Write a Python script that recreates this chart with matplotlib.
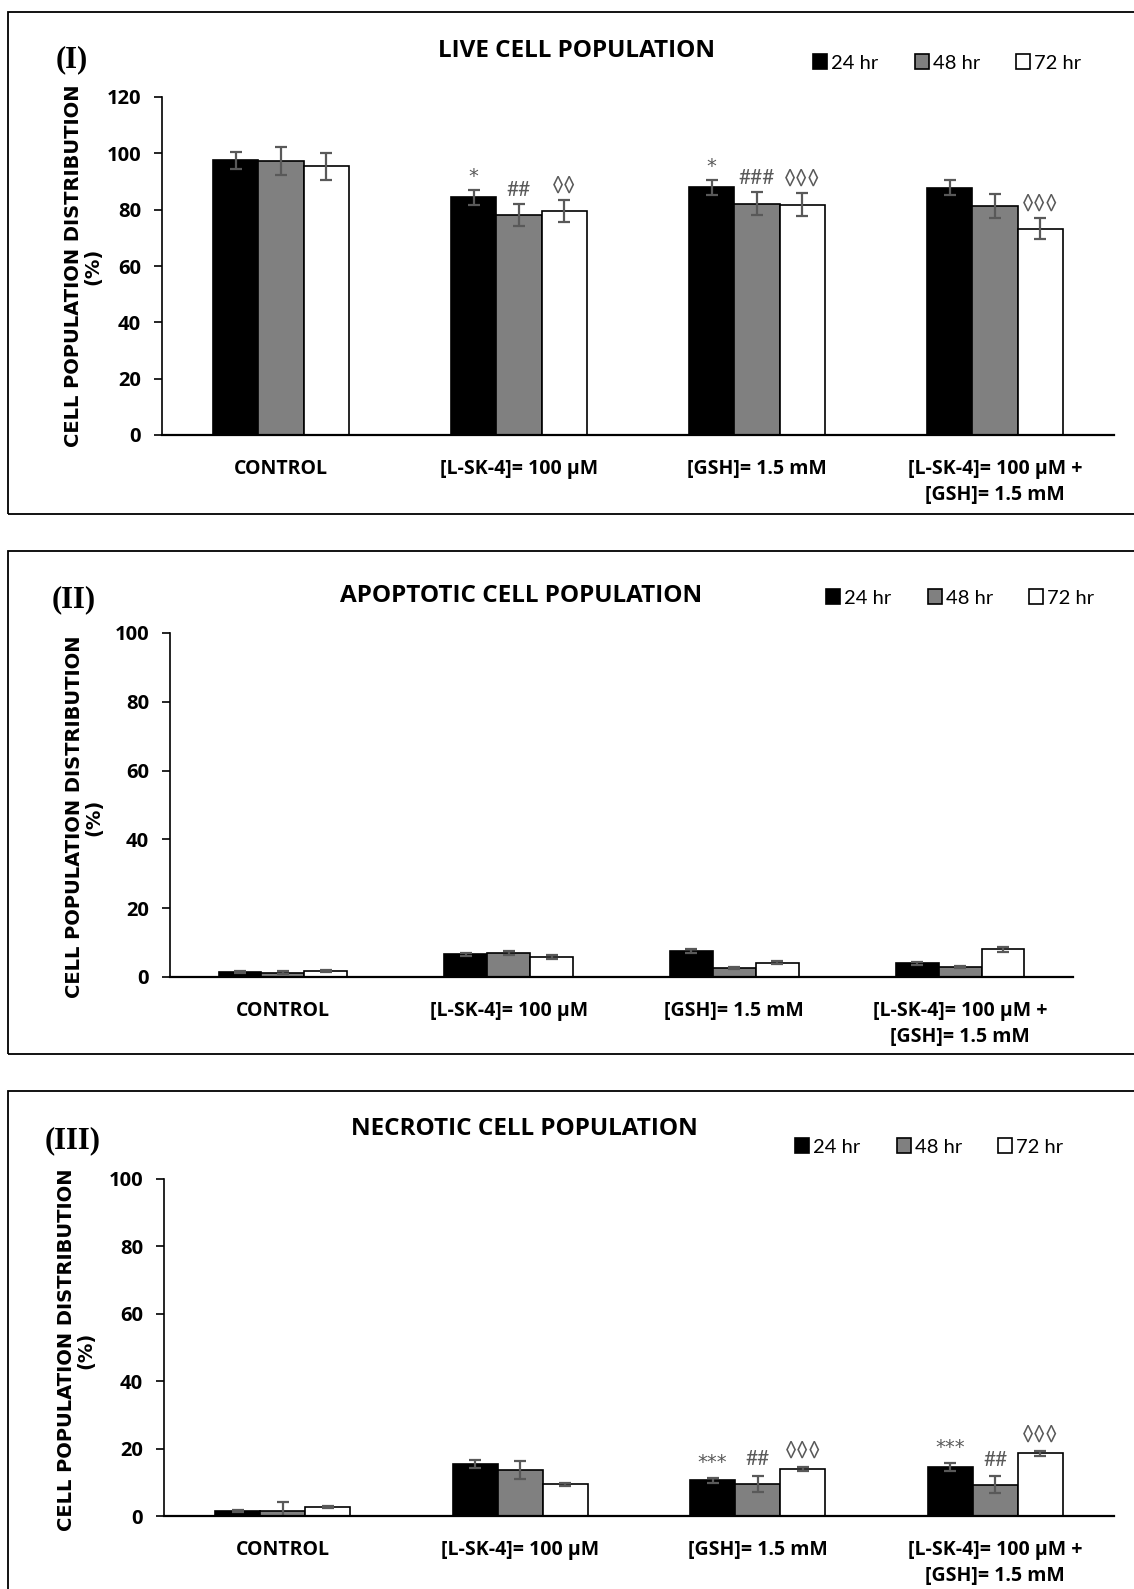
import numpy as np
import matplotlib
matplotlib.use("Agg")
import matplotlib.pyplot as plt
from matplotlib.patches import Rectangle

# data
groups = ["CONTROL", "[L-SK-4]= 100 \u00b5M", "[GSH]= 1.5 mM",
          "[L-SK-4]= 100 \u00b5M +\n[GSH]= 1.5 mM"]
times = ["24 hr", "48 hr", "72 hr"]

live_24 = [97.5, 84.4, 87.9, 87.8]
live_48 = [97.2, 78.1, 82.1, 81.4]
live_72 = [95.4, 79.6, 81.8, 73.3]
live_24_err = [3.0, 2.6, 2.7, 2.7]
live_48_err = [5.0, 4.0, 4.1, 4.3]
live_72_err = [4.7, 4.0, 4.2, 3.7]

apo_24 = [1.4, 6.6, 7.5, 4.0]
apo_48 = [1.3, 7.0, 2.6, 2.8]
apo_72 = [1.8, 5.8, 4.2, 8.0]
apo_24_err = [0.3, 0.5, 0.5, 0.4]
apo_48_err = [0.3, 0.5, 0.3, 0.3]
apo_72_err = [0.3, 0.5, 0.4, 0.6]

nec_24 = [1.4, 15.3, 10.6, 14.6]
nec_48 = [1.6, 13.6, 9.5, 9.3]
nec_72 = [2.7, 9.4, 13.9, 18.6]
nec_24_err = [0.3, 1.2, 0.7, 1.2]
nec_48_err = [2.6, 2.6, 2.5, 2.5]
nec_72_err = [0.3, 0.4, 0.6, 0.8]

live_marks = [["", "*", "*", ""],
              ["", "##", "###", ""],
              ["", "\u25ca\u25ca", "\u25ca\u25ca\u25ca", "\u25ca\u25ca\u25ca"]]
apo_marks = [["", "", "", ""], ["", "", "", ""], ["", "", "", ""]]
nec_marks = [["", "", "***", "***"],
             ["", "", "##", "##"],
             ["", "", "\u25ca\u25ca\u25ca", "\u25ca\u25ca\u25ca"]]

colors = ["#000000", "#808080", "#ffffff"]
W, H = 1134, 1589
SANS = ["Lato", "DejaVu Sans"]
BOLD = ["Open Sans", "DejaVu Sans"]

fig = plt.figure(figsize=(W / 100, H / 100), dpi=100)


def fx(x):
    return x / W


def fy(y):
    return 1 - y / H


def draw_panel(box, frame, ymax, step, vals, errs, marks, pad,
               title, title_xy, leg_xy, tag, tag_xy, ylab_xy):
    left, top, right, bottom = box
    ax = fig.add_axes([fx(left), fy(bottom), fx(right - left), (bottom - top) / H])
    x = np.arange(len(groups)) + 0.5
    w = 0.19
    handles = []
    for k in range(3):
        b = ax.bar(x + (k - 1) * w, vals[k], w, yerr=errs[k], color=colors[k],
                   edgecolor="black", linewidth=1.2, label=times[k],
                   error_kw=dict(ecolor="#595959", elinewidth=1.6, capsize=4.5, capthick=1.6))
        handles.append(b)
        for i in range(len(groups)):
            m = marks[k][i]
            if m:
                # asterisks look too small in Lato, use DejaVu for those
                fam = ["DejaVu Sans"] if "*" in m else SANS
                ax.text(x[i] + (k - 1) * w, vals[k][i] + errs[k][i] + pad, m,
                        ha="center", va="bottom", fontsize=15 if "*" not in m else 14,
                        color="#595959", family=fam)
    ax.set_xlim(0, len(groups))
    ax.set_ylim(0, ymax)
    ax.set_yticks(np.arange(0, ymax + 1, step))
    ax.set_xticks(x)
    ax.set_xticklabels(groups, fontsize=14, fontweight="bold", family=BOLD, linespacing=1.45)
    ax.tick_params(axis="x", length=0, pad=17)
    ax.tick_params(axis="y", length=6, width=1.2, direction="out", pad=9, labelsize=14.5)
    for lab in ax.get_yticklabels():
        lab.set_fontweight("bold")
        lab.set_family(BOLD)
    ax.spines["top"].set_visible(False)
    ax.spines["right"].set_visible(False)
    ax.spines["left"].set_linewidth(1.2)
    ax.spines["bottom"].set_linewidth(1.6)

    fig.text(fx(title_xy[0]), fy(title_xy[1]), title, ha="center", va="center",
             fontsize=17.5, fontweight="bold", family=BOLD)
    fig.text(fx(tag_xy[0]), fy(tag_xy[1]), tag, ha="left", va="center",
             fontsize=22, fontweight="bold", family="Liberation Serif")
    fig.text(fx(ylab_xy[0]), fy(ylab_xy[1]), "CELL POPULATION DISTRIBUTION\n(%)",
             rotation=90, ha="center", va="center", fontsize=14, fontweight="bold",
             family="DejaVu Sans", multialignment="center", linespacing=1.05)
    fig.legend(handles=handles, loc="center left", bbox_to_anchor=(fx(leg_xy[0]), fy(leg_xy[1])),
               ncol=3, frameon=False, handlelength=0.7, handleheight=0.7,
               handletextpad=0.2, columnspacing=1.8, borderpad=0, borderaxespad=0,
               prop={"family": SANS, "size": 14.5})

    # panel frame (open on the right, as in the source figure)
    fig.patches.append(Rectangle((fx(8), fy(frame[1])), fx(1300), (frame[1] - frame[0]) / H,
                                 transform=fig.transFigure, fill=False,
                                 edgecolor="black", linewidth=1.3))
    return ax


draw_panel((162, 97, 1114, 435), (12, 514), 120, 20,
           [live_24, live_48, live_72], [live_24_err, live_48_err, live_72_err], live_marks, 1.5,
           "LIVE CELL POPULATION", (576, 51), (813, 63), "(I)", (56, 60), (83, 266))

draw_panel((170, 633, 1073, 977), (551, 1054), 100, 20,
           [apo_24, apo_48, apo_72], [apo_24_err, apo_48_err, apo_72_err], apo_marks, 1.5,
           "APOPTOTIC CELL POPULATION", (521, 596), (826, 598), "(II)", (52, 600), (84, 817))

draw_panel((164, 1179, 1114, 1516), (1091, 1700), 100, 20,
           [nec_24, nec_48, nec_72], [nec_24_err, nec_48_err, nec_72_err], nec_marks, 1.8,
           "NECROTIC CELL POPULATION", (524, 1129), (795, 1147), "(III)", (45, 1141), (76, 1350))

fig.savefig("out.png", dpi=100)
